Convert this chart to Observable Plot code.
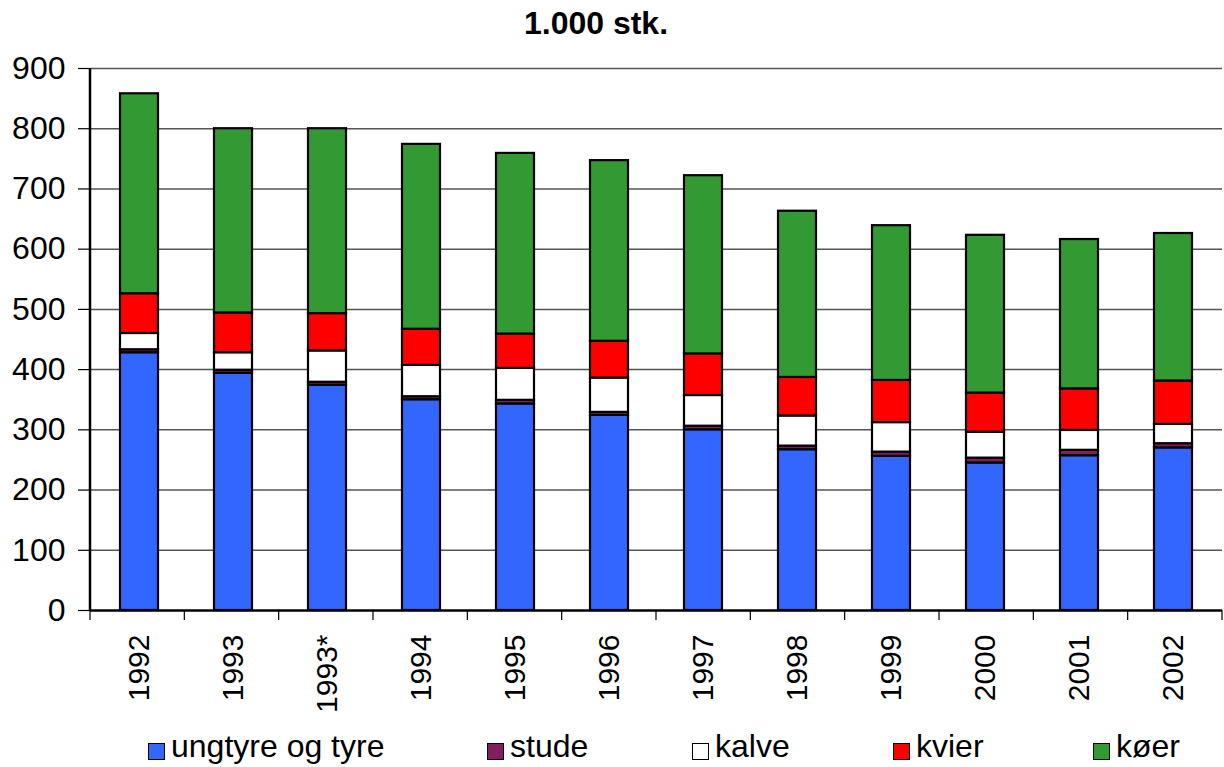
<!DOCTYPE html>
<html>
<head>
<meta charset="utf-8">
<script src="https://cdn.jsdelivr.net/npm/d3@7"></script>
<script src="https://cdn.jsdelivr.net/npm/@observablehq/plot@0.6"></script>
<style>
  html, body { margin: 0; padding: 0; background: #fff; }
  body { width: 1224px; height: 767px; overflow: hidden; font-family: "Liberation Sans", Arial, sans-serif; }
  #title { height: 46px; line-height: 46px; font-size: 32px; font-weight: bold; text-align: center; padding-right: 32px; color: #000; }
  #legend { position: relative; height: 41px; }
  .item { position: absolute; top: 0; height: 41px; line-height: 41px; font-size: 32px; color: #000; white-space: nowrap; }
  .sw { position: absolute; top: 17px; width: 15px; height: 15px; border: 1.5px solid #000; }
  .lbl { position: absolute; }
</style>
</head>
<body>
<div id="title">1.000 stk.</div>
<div id="chart"></div>
<div id="legend"></div>
<script>
const years = ["1992","1993","1993*","1994","1995","1996","1997","1998","1999","2000","2001","2002"];
const series = ["ungtyre og tyre","stude","kalve","kvier","køer"];
const colors = ["#3366FF","#7F1F60","#FFFFFF","#FF0000","#339933"];
const ungtyre = [428,394,374,350,343,324,300,267,256,245,257,270];
const stude   = [5,5,5,5,6,5,6,6,7,8,9,7];
const kalve   = [27,29,52,52,53,57,51,50,49,43,33,32];
const kvier   = [66,66,62,60,57,61,69,64,70,65,69,72];
const koer    = [332,306,307,307,300,300,296,276,257,262,248,245];
const yTicks  = [0,100,200,300,400,500,600,700,800,900];
const legendX = [148,487,692,893,1093];

const values = [ungtyre, stude, kalve, kvier, koer];
const data = [];
years.forEach((yr, i) => series.forEach((s, j) => data.push({year: yr, series: s, value: values[j][i]})));

const W = 1224, H = 680, ML = 90, MR = 2, MT = 22, MB = 116;

const chart = Plot.plot({
  width: W, height: H,
  marginLeft: ML, marginRight: MR, marginTop: MT, marginBottom: MB,
  style: {fontFamily: "Liberation Sans, Arial, sans-serif", fontSize: "30px", color: "#000", background: "#fff", overflow: "visible"},
  x: {domain: years, paddingInner: 0.6, paddingOuter: 0.3, axis: null},
  y: {domain: [0, 900], axis: null},
  color: {domain: series, range: colors},
  marks: [
    Plot.ruleY(yTicks.filter(d => d > 0), {stroke: "#555", strokeWidth: 1.5}),
    Plot.barY(data, {x: "year", y: "value", fill: "series", order: series, stroke: "#000", strokeWidth: 2.2}),
    Plot.ruleY([0], {stroke: "#000", strokeWidth: 2.5}),
    Plot.axisY({ticks: yTicks, tickSize: 12, tickPadding: 13, fontSize: 32, stroke: "#000", strokeWidth: 1.2, tickFormat: d => String(d), label: null}),
    Plot.axisX({tickRotate: -90, tickSize: 0, tickPadding: 24, fontSize: 30, tickFormat: d => d, label: null})
  ]
});
document.getElementById("chart").appendChild(chart);

// left axis line and band-boundary ticks, from the chart's own scales
const sx = chart.scale("x"), sy = chart.scale("y");
const band = d3.scaleBand().domain(sx.domain).range(sx.range).paddingInner(0.6).paddingOuter(0.3);
const y0 = sy.range[0], y1 = sy.range[1];
const svg = d3.select(chart);
const g = svg.append("g");
const bounds = band.domain().map(d => band(d) - band.step() * 0.3);
bounds.push(band.range()[1]);
g.selectAll("line.bt").data(bounds).join("line")
  .attr("x1", d => d).attr("x2", d => d).attr("y1", y0).attr("y2", y0 + 10)
  .attr("stroke", "#000").attr("stroke-width", 1.2);
g.append("line").attr("x1", band.range()[0]).attr("x2", band.range()[0]).attr("y1", y0 + 1).attr("y2", y1)
  .attr("stroke", "#000").attr("stroke-width", 2.5);

// legend
const leg = document.getElementById("legend");
series.forEach((s, j) => {
  const it = document.createElement("div");
  it.className = "item";
  it.style.left = legendX[j] + "px";
  const sw = document.createElement("div");
  sw.className = "sw";
  sw.style.left = "0px";
  sw.style.background = colors[j];
  const lb = document.createElement("span");
  lb.className = "lbl";
  lb.style.left = "23px";
  lb.textContent = s;
  it.appendChild(sw); it.appendChild(lb);
  leg.appendChild(it);
});
</script>
</body>
</html>
